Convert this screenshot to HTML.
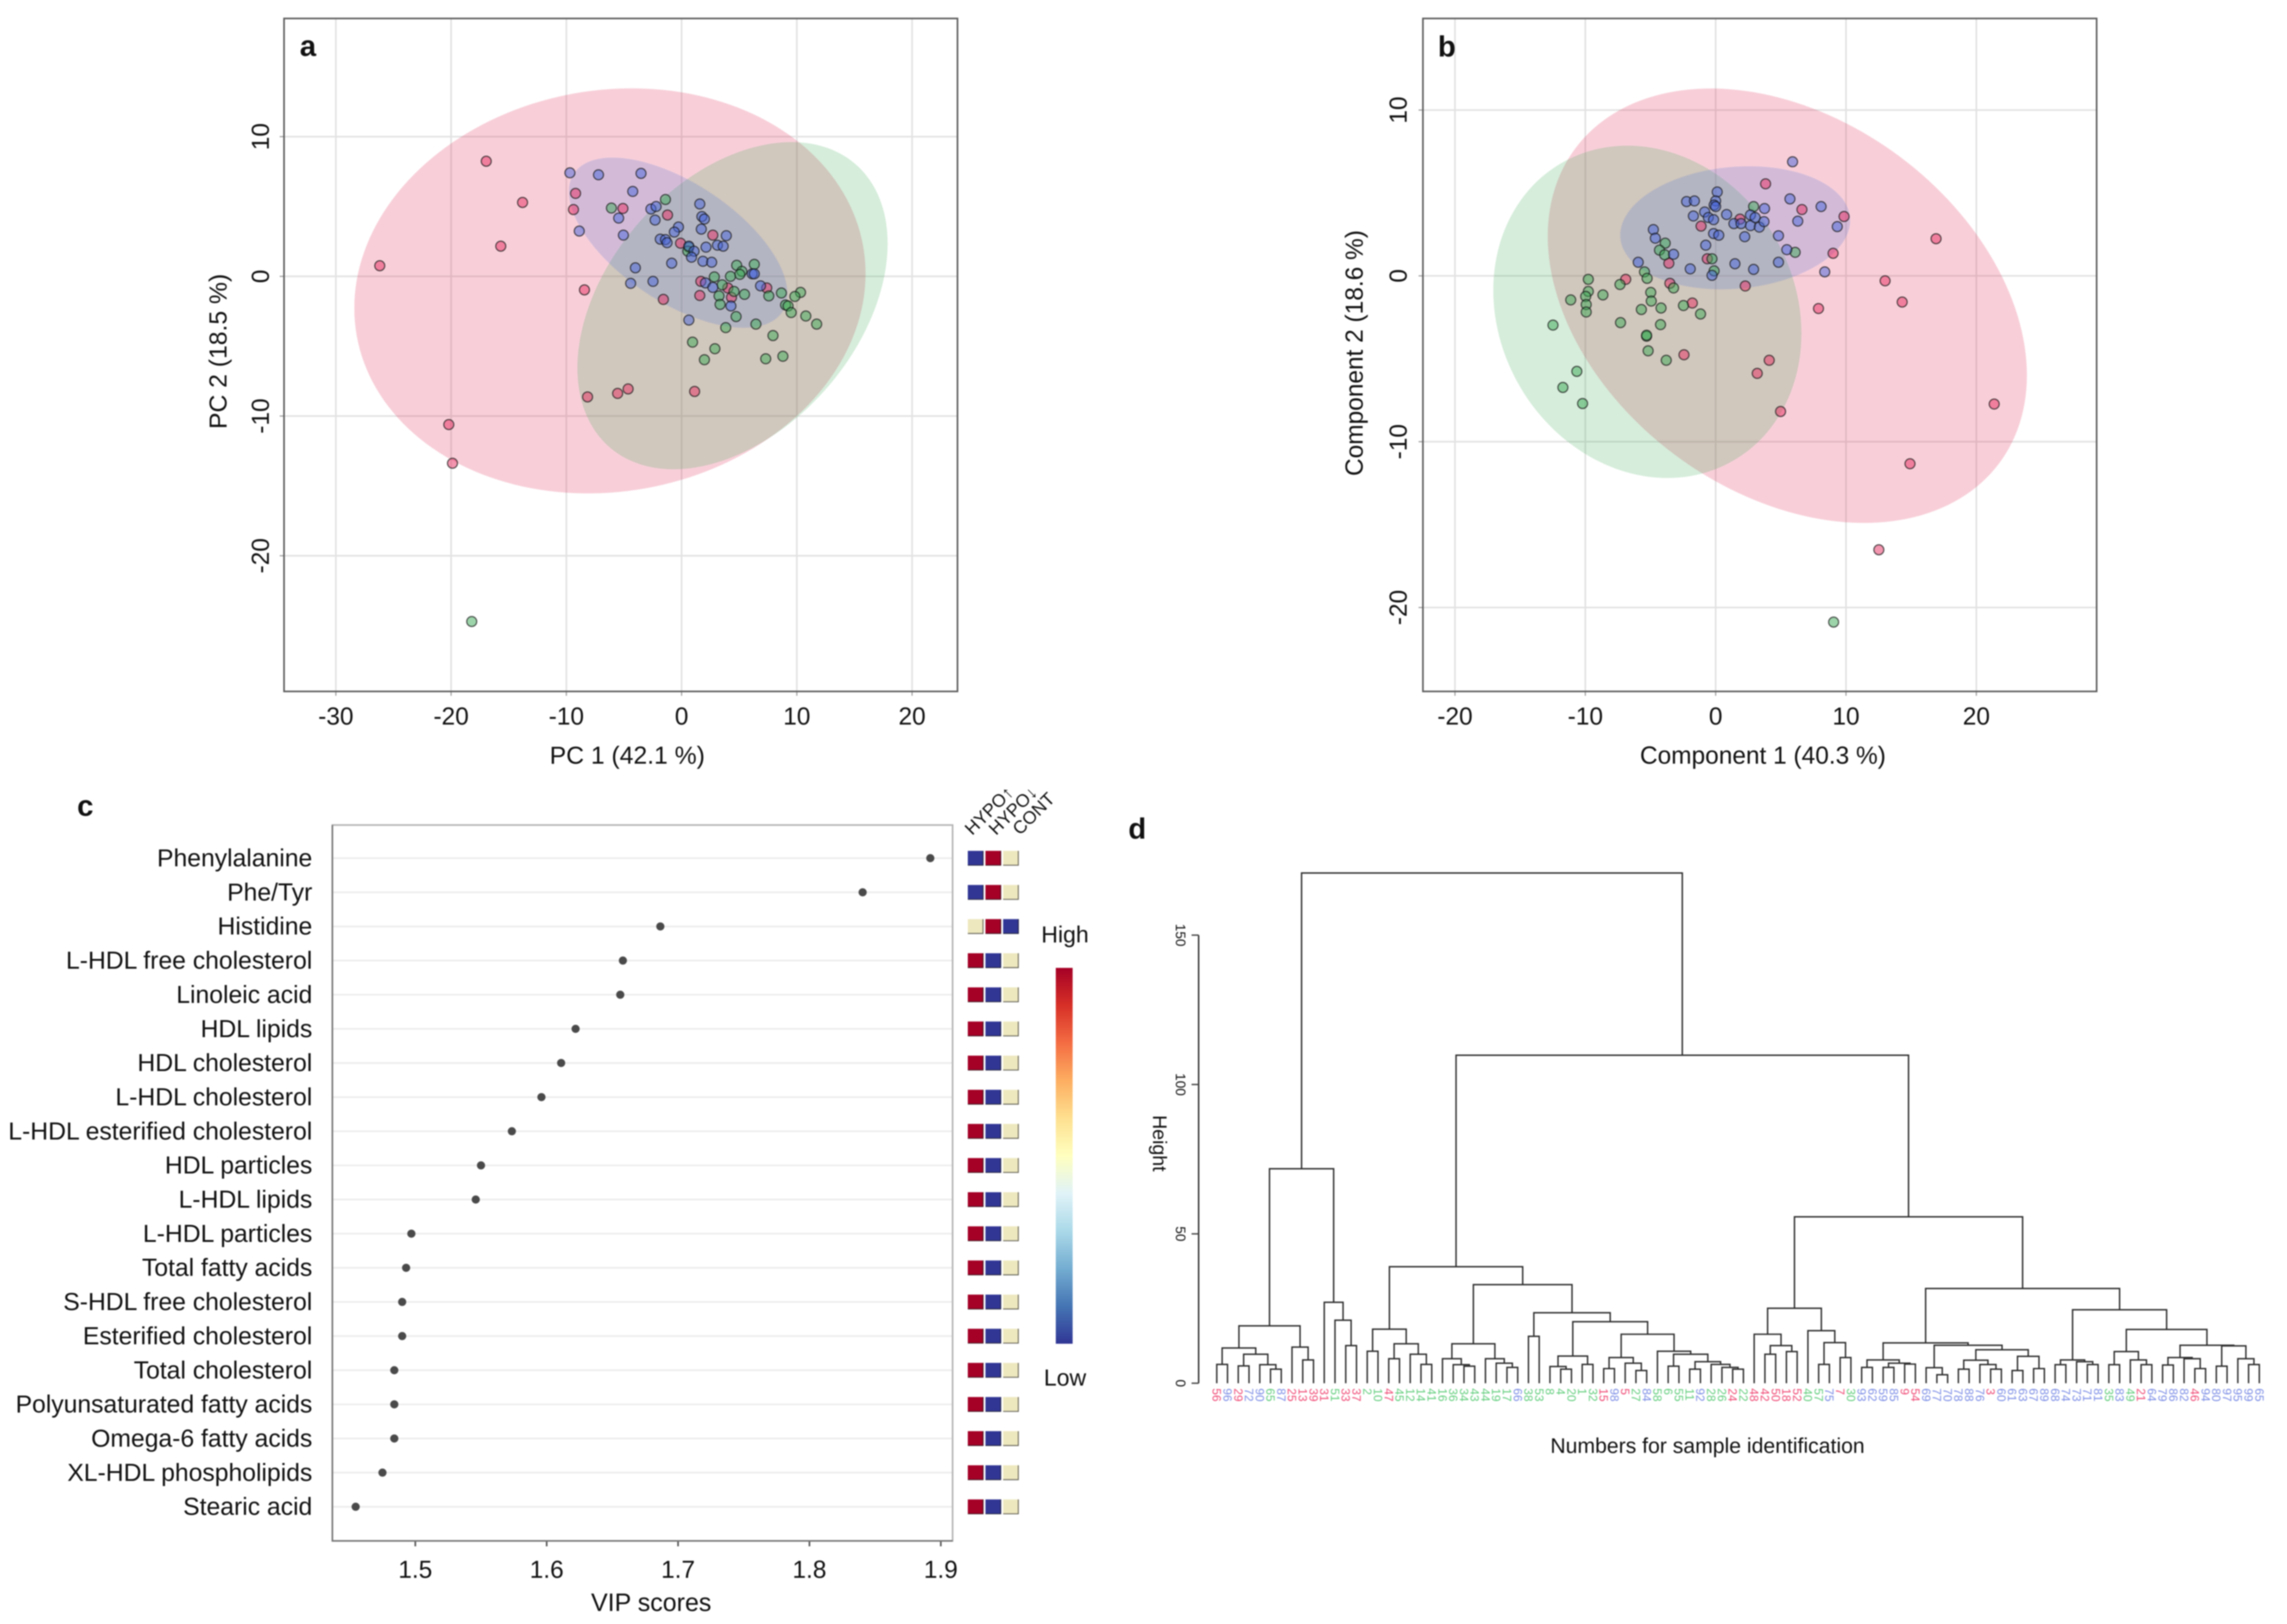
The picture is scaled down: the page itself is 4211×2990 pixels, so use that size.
<!DOCTYPE html>
<html lang="en">
<head>
<meta charset="utf-8">
<title>Metabolomic multivariate analysis panels</title>
<style>
  html,body{margin:0;padding:0;background:#fff;}
  #figure{display:block;width:4211px;height:2990px;filter:blur(1px);font-family:"Liberation Sans",Arial,sans-serif;}
  text{fill:#111;}
</style>
</head>
<body>
<svg id="figure" xmlns="http://www.w3.org/2000/svg" width="4211" height="2990" viewBox="0 0 4211 2990">
  <defs>
    <linearGradient id="rampGradient" x1="0" y1="0" x2="0" y2="1">
      <stop offset="0" stop-color="#a50026"/><stop offset="0.1" stop-color="#d73027"/>
      <stop offset="0.2" stop-color="#f46d43"/><stop offset="0.3" stop-color="#fdae61"/>
      <stop offset="0.4" stop-color="#fee090"/><stop offset="0.5" stop-color="#ffffbf"/>
      <stop offset="0.6" stop-color="#e0f3f8"/><stop offset="0.7" stop-color="#abd9e9"/>
      <stop offset="0.8" stop-color="#74add1"/><stop offset="0.9" stop-color="#4575b4"/>
      <stop offset="1" stop-color="#313695"/>
    </linearGradient>
  </defs>
  <rect width="4211" height="2990" fill="#fff"/>
  <g id="panelA"></g>
  <g id="panelB"></g>
  <g id="panelC"></g>
  <g id="panelD"></g>

  <text x="567" y="103" font-size="54" font-weight="bold" text-anchor="middle">a</text>
  <text x="2664" y="104" font-size="54" font-weight="bold" text-anchor="middle">b</text>
  <text x="157" y="1502" font-size="54" font-weight="bold" text-anchor="middle">c</text>
  <text x="2094" y="1544" font-size="54" font-weight="bold" text-anchor="middle">d</text>

  <text x="1155" y="1406" font-size="45.5" text-anchor="middle">PC 1 (42.1 %)</text>
  <text transform="translate(417,647) rotate(-90)" font-size="45.5" text-anchor="middle">PC 2 (18.5 %)</text>
  <text x="3246" y="1406" font-size="45" text-anchor="middle">Component 1 (40.3 %)</text>
  <text transform="translate(2509,650) rotate(-90)" font-size="45" text-anchor="middle">Component 2 (18.6 %)</text>
  <text x="1199" y="2966" font-size="46" text-anchor="middle">VIP scores</text>

  <rect x="1944" y="1782" width="31" height="692" fill="url(#rampGradient)"/>
  <text x="1961" y="1735" font-size="42.5" text-anchor="middle">High</text>
  <text x="1961" y="2551" font-size="42.5" text-anchor="middle">Low</text>

  <text transform="translate(2123,2105) rotate(90)" font-size="36" text-anchor="middle">Height</text>
  <text x="3144" y="2675" font-size="39" text-anchor="middle">Numbers for sample identification</text>
</svg>

<script>
/* ---------- Panel a: PCA scores ---------- */
const pcaXTicks = [-30, -20, -10, 0, 10, 20];
const pcaYTicks = [10, 0, -10, -20];
const pcaRedX = [-16.95,-13.8,-15.69,-26.19,-9.2,-9.38,-5.09,-1.22,2.71,-0.09,-8.43,-1.58,1.67,1.58,4.01,4.33,7.39,-8.16,-5.55,-4.64,1.13,-20.2,-19.88];
const pcaRedY = [8.24,5.29,2.16,0.76,5.94,4.78,4.86,4.39,2.95,2.37,-0.97,-1.65,-0.36,-1.37,-0.83,-1.51,-0.83,-8.63,-8.38,-8.06,-8.24,-10.61,-13.38];
const pcaGreenX = [-1.4,-6.09,0.63,0.54,4.78,6.31,5.23,5.05,4.24,2.84,3.52,4.55,5.46,3.25,3.34,7.57,8.66,10.32,9.83,9.02,9.24,9.51,10.78,11.72,4.73,3.83,6.45,7.93,0.95,2.89,1.98,7.3,8.79,-18.21];
const pcaGreenY = [5.5,4.89,2.09,1.8,0.79,0.86,0.36,0.14,0,-0.04,-0.61,-1.08,-1.29,-1.4,-2.01,-1.4,-1.19,-1.15,-1.44,-2.05,-2.12,-2.59,-2.84,-3.42,-2.88,-3.67,-3.42,-4.24,-4.71,-5.18,-5.97,-5.9,-5.72,-24.71];
const pcaBlueX = [-9.69,-7.21,-3.52,-4.24,-5.46,-5.05,-8.88,-2.66,-2.21,-2.3,1.58,1.76,1.98,1.71,-0.27,-0.63,-1.85,-1.4,-1.26,3.88,3.11,3.61,2.12,0.63,1.08,0.86,-0.86,-4.01,1.85,2.61,-2.48,-4.42,2.07,2.71,6.13,6.31,6.85,4.28,0.63];
const pcaBlueY = [7.41,7.27,7.37,6.08,4.17,2.95,3.24,4.82,5,4.03,5.18,4.28,4.1,3.38,3.53,3.17,2.66,2.63,2.41,2.91,2.23,2.16,2.09,2.16,1.8,1.37,0.94,0.61,1.08,1.01,-0.36,-0.5,-0.47,-0.79,0.18,0.18,-0.68,-2.12,-3.13];
/* confidence ellipses: centre x, centre y, half width, half height, correlation */
const pcaRedEllipse = [-6.22, -1.04, 22.18, 14.5, 0.085];
const pcaGreenEllipse = [4.42, -2.10, 13.46, 11.71, 0.38];
const pcaBlueEllipse = [-0.3, 2.41, 9.48, 6.09, -0.6];

/* ---------- Panel b: PLS-DA scores ---------- */
const plsXTicks = [-20, -10, 0, 10, 20];
const plsYTicks = [10, 0, -10, -20];
const plsRedX = [3.83,6.62,9.85,1.87,-1.12,16.91,9.01,-0.64,-3.59,-6.9,-3.51,2.27,13,14.31,7.89,-1.79,-2.43,4.11,3.19,4.98,21.37,14.91,12.52];
const plsRedY = [5.55,4,3.58,3.42,3,2.24,1.36,1.03,0.76,-0.21,-0.45,-0.61,-0.3,-1.58,-1.97,-1.64,-4.76,-5.09,-5.88,-8.18,-7.73,-11.33,-16.52];
const plsGreenX = [2.91,-3.87,-4.31,-3.91,6.1,-0.28,-0.12,-5.46,-5.26,-9.77,-7.34,-3.23,-9.77,-4.98,-9.97,-8.65,-11.12,-4.94,-9.93,-4.19,-5.7,-2.47,-9.93,-1.16,-7.3,-4.23,-12.48,-5.3,-5.3,-5.18,-3.79,-10.65,-11.72,-10.21,9.05];
const plsGreenY = [4.18,1.97,1.55,1.27,1.42,1.03,0.3,0.24,-0.15,-0.21,-0.52,-0.73,-0.94,-1,-1.24,-1.15,-1.45,-1.52,-1.73,-1.94,-2.03,-1.79,-2.18,-2.3,-2.82,-2.94,-2.97,-3.64,-3.58,-4.52,-5.09,-5.76,-6.73,-7.7,-20.88];
const plsBlueX = [5.9,5.7,8.09,3.75,6.3,9.33,4.82,5.46,4.82,8.37,0.12,0,-0.12,0,-2.23,-1.63,-1.71,-0.84,-0.56,-0.16,0.84,1.4,1.95,2.67,2.67,3.03,3.35,3.71,-0.16,0.24,2.23,-4.78,-4.63,-3.23,-0.76,-5.94,-1.95,1.48,-0.28,2.91];
const plsBlueY = [6.88,4.64,4.18,4.06,3.3,2.97,2.42,1.58,0.82,0.24,5.06,4.52,4.27,4.18,4.48,4.52,3.61,3.85,3.52,3.39,3.7,3.15,3.15,3.67,3.03,3.52,2.94,3.27,2.55,2.45,2.36,2.79,2.27,1.3,1.85,0.82,0.42,0.73,0.03,0.39];
const plsRedEllipse = [5.5, -1.8, 18.38, 13.1, -0.32];
const plsGreenEllipse = [-5.24, -2.17, 11.82, 10.02, -0.13];
const plsBlueEllipse = [1.5, 2.9, 8.82, 3.71, 0.12];

/* ---------- Panel c: VIP scores ---------- */
const vipNames = ["Phenylalanine","Phe/Tyr","Histidine","L-HDL free cholesterol","Linoleic acid","HDL lipids","HDL cholesterol","L-HDL cholesterol","L-HDL esterified cholesterol","HDL particles","L-HDL lipids","L-HDL particles","Total fatty acids","S-HDL free cholesterol","Esterified cholesterol","Total cholesterol","Polyunsaturated fatty acids","Omega-6 fatty acids","XL-HDL phospholipids","Stearic acid"];
const vipScores = [1.892,1.8405,1.6865,1.658,1.656,1.622,1.611,1.596,1.5735,1.55,1.546,1.497,1.493,1.49,1.49,1.484,1.484,1.484,1.475,1.4546];
const vipTicks = ["1.5","1.6","1.7","1.8","1.9"];
const heatGroups = ["HYPO↑","HYPO↓","CONT"];
const heatLevelA = [-1,-1,0,1,1,1,1,1,1,1,1,1,1,1,1,1,1,1,1,1];
const heatLevelB = [1,1,1,-1,-1,-1,-1,-1,-1,-1,-1,-1,-1,-1,-1,-1,-1,-1,-1,-1];
const heatLevelC = [0,0,-1,0,0,0,0,0,0,0,0,0,0,0,0,0,0,0,0,0];

/* ---------- Panel d: hierarchical clustering ---------- */
const heightTicks = [0, 50, 100, 150];
const leafLabels = [56,96,29,72,90,65,87,25,13,39,31,51,33,37,2,10,47,45,12,14,41,16,36,34,43,44,19,17,66,38,53,8,4,20,1,32,15,98,5,27,84,58,6,55,11,92,28,26,24,22,48,42,50,18,52,40,57,75,7,30,93,62,59,85,9,54,69,77,70,78,88,76,3,60,61,63,67,89,68,74,73,71,81,35,83,49,21,64,79,86,82,46,94,80,97,95,99,65];
const leafGroups = "r b r b b g b r r r r g r r g g r g g g g g g g g g g g b g g g g g g g r b r g b g g g g b g g r g r r r r r g g b r g b b b b r r b b b b b b r b b b b b b b b b b g b g r b b b b r b b b b b b".split(" ");
/* each merge is [height, left child, right child]; a plain number is a leaf position */
const dendroTree = [170.8,
  [71.8,
    [19.2,[11.8,[6.3,0,1],[9.7,[5.8,2,3],[6.2,4,[4.7,5,6]]]],[12.1,7,[7.8,8,9]]],
    [27.1,10,[21.1,11,[12.6,12,13]]]],
  [109.8,
    [39.0,
      [18.1,[10.7,14,15],[13.2,[8.2,16,17],[9.7,18,[6.3,19,20]]]],
      [33.0,
        [13.2,[8.2,21,[6.2,22,[5.7,23,24]]],[8.2,25,[6.7,26,[5.3,27,28]]]],
        [23.6,[15.7,29,30],
          [20.6,[9.1,[5.6,31,[4.7,32,33]],[6.3,34,35]],
            [16.4,[8.6,[4.9,36,37],[6.7,38,[4.25,39,40]]],
              [10.7,41,[9.7,[5.7,42,43],[7.2,[4.7,44,45],[6.3,46,[5.3,47,[4.7,48,49]]]]]]]]]]],
    [55.7,
      [25.1,[16.4,50,[12.6,[9.7,51,52],[10.6,53,54]]],[17.6,55,[13.6,[6.3,56,57],[8.6,58,59]]]],
      [31.7,
        [13.5,[7.8,[5.3,60,61],[6.7,[5.3,62,63],[6.4,64,65]]],
          [12.7,[5.2,66,[2.85,67,68]],[11.2,[7.7,[4.7,69,70],[6.25,71,[4.7,72,73]]],[9.0,[4.25,74,75],[4.9,76,77]]]]],
        [24.6,[7.8,[6.2,78,79],[7.2,80,[6.25,81,82]]],
          [18.0,[10.6,[6.2,83,84],[7.8,85,[6.2,86,87]]],
            [12.7,[8.6,[6.1,88,89],[8.2,90,[4.9,91,92]]],[12.5,[5.7,93,94],[8.2,95,[6.25,96,97]]]]]]]]]];

/* ---------- Drawing ---------- */
const SVG_NS = "http://www.w3.org/2000/svg";
function make(tag, parent, attrs, content) {
  const el = document.createElementNS(SVG_NS, tag);
  for (const k in attrs) el.setAttribute(k, attrs[k]);
  if (content !== undefined) el.textContent = content;
  parent.appendChild(el);
  return el;
}

function ellipsePath(params, sx, sy) {
  const [cx, cy, hx, hy, rho] = params;
  const phi = Math.acos(rho);
  let d = "";
  for (let i = 0; i < 180; i++) {
    const t = i / 180 * 2 * Math.PI;
    const px = sx(cx + hx * Math.cos(t));
    const py = sy(cy + hy * Math.cos(t - phi));
    d += (i ? "L" : "M") + px.toFixed(1) + " " + py.toFixed(1);
  }
  return d + "Z";
}

function drawScatter(root, box, sx, sy, xTicks, yTicks, yLabelX, series, ellipses) {
  for (const v of xTicks) {
    const g = make("line", root, {x1: sx(v), x2: sx(v), y1: box.top, y2: box.bottom, stroke: "#e2e2e2", "stroke-width": 3});
    
    
    const t = make("line", root, {x1: sx(v), x2: sx(v), y1: box.bottom, y2: box.bottom + 8, stroke: "#999", "stroke-width": 2});
    
    
    const l = make("text", root, {x: sx(v), y: box.bottom + 61, "font-size": 45, "text-anchor": "middle"}, String(v));
    
    
  }
  for (const v of yTicks) {
    const g = make("line", root, {x1: box.left, x2: box.right, y1: sy(v), y2: sy(v), stroke: "#e2e2e2", "stroke-width": 3});
    
    
    const t = make("line", root, {x1: box.left - 8, x2: box.left, y1: sy(v), y2: sy(v), stroke: "#999", "stroke-width": 2});
    
    
    const l = make("text", root, {transform: "translate(" + yLabelX + "," + sy(v) + ") rotate(-90)", "font-size": 45, "text-anchor": "middle"}, String(v));
    
    
  }
  for (const e of ellipses) {
    const p = make("path", root, {d: ellipsePath(e.params, sx, sy), fill: e.color, "fill-opacity": 0.22});
    
    
  }
  for (const s of series) {
    s.x.forEach(function (xv, i) {
      const c = make("circle", root, {cx: sx(xv), cy: sy(s.y[i]), r: 9.2, fill: s.fill, "fill-opacity": 0.5, stroke: "#151515", "stroke-width": 2, "stroke-opacity": 0.75});
      
      
    });
  }
  const f = make("rect", root, {x: box.left, y: box.top, width: box.right - box.left, height: box.bottom - box.top, fill: "none", stroke: "#5e5e5e", "stroke-width": 3});
  
  
}

const RED = "rgb(223,37,82)", GREEN = "rgb(68,173,91)", BLUE = "rgb(84,120,213)";
const PT_RED = "rgb(232,45,98)", PT_GREEN = "rgb(60,170,85)", PT_BLUE = "rgb(70,100,218)";

/* panel a */
(function () {
  const box = {left: 523, right: 1763, top: 34, bottom: 1273};
  const sx = v => 1255 + v * 21.22;
  const sy = v => 508.8 - v * 25.72;
  drawScatter(document.getElementById("panelA"), box, sx, sy, pcaXTicks, pcaYTicks, 495,
    [{x: pcaRedX, y: pcaRedY, fill: PT_RED, name: "hyper-group-point"},
     {x: pcaGreenX, y: pcaGreenY, fill: PT_GREEN, name: "hypo-group-point"},
     {x: pcaBlueX, y: pcaBlueY, fill: PT_BLUE, name: "control-group-point"}],
    [{params: pcaRedEllipse, color: RED, name: "hyper-group-ellipse"},
     {params: pcaGreenEllipse, color: GREEN, name: "hypo-group-ellipse"},
     {params: pcaBlueEllipse, color: BLUE, name: "control-group-ellipse"}]);
})();

/* panel b */
(function () {
  const box = {left: 2620, right: 3860.5, top: 34, bottom: 1273};
  const sx = v => 3159 + v * 24;
  const sy = v => 507.9 - v * 30.53;
  drawScatter(document.getElementById("panelB"), box, sx, sy, plsXTicks, plsYTicks, 2590,
    [{x: plsRedX, y: plsRedY, fill: PT_RED, name: "hyper-group-point"},
     {x: plsGreenX, y: plsGreenY, fill: PT_GREEN, name: "hypo-group-point"},
     {x: plsBlueX, y: plsBlueY, fill: PT_BLUE, name: "control-group-point"}],
    [{params: plsRedEllipse, color: RED, name: "hyper-group-ellipse"},
     {params: plsGreenEllipse, color: GREEN, name: "hypo-group-ellipse"},
     {params: plsBlueEllipse, color: BLUE, name: "control-group-ellipse"}]);
})();

/* panel c */
(function () {
  const root = document.getElementById("panelC");
  const box = {left: 612, right: 1754, top: 1519, bottom: 2837};
  const sx = v => 764.7 + (v - 1.5) * 2419;
  const sy = i => 1580 + i * 62.85;
  const heatColour = v => (v > 0 ? "#a50026" : v < 0 ? "#313695" : "#eee8bf");
  const heatCols = [heatLevelA, heatLevelB, heatLevelC];

  vipNames.forEach(function (name, i) {
    const g = make("line", root, {x1: box.left, x2: box.right, y1: sy(i), y2: sy(i), stroke: "#ececec", "stroke-width": 3});
    
    
    const l = make("text", root, {x: 575, y: sy(i) + 15, "font-size": 45.5, "text-anchor": "end"}, name);
    
    
    const d = make("circle", root, {cx: sx(vipScores[i]), cy: sy(i), r: 7.5, fill: "#4a4a4a"});
    
    
    heatCols.forEach(function (col, j) {
      const hx = 1782 + j * 32.5;
      const cell = make("rect", root, {x: hx, y: sy(i) - 13.5, width: 29, height: 27, fill: heatColour(col[i])});
      
      
      const edge = make("path", root, {d: "M" + (hx + 28) + " " + (sy(i) - 13.5) + "V" + (sy(i) + 13) + "H" + hx, fill: "none", stroke: "#222", "stroke-width": 1.8, "stroke-opacity": 0.65});
      
      
    });
  });

  vipTicks.forEach(function (label) {
    const v = parseFloat(label);
    const t = make("line", root, {x1: sx(v), x2: sx(v), y1: box.bottom, y2: box.bottom + 10, stroke: "#555", "stroke-width": 3});
    
    
    const l = make("text", root, {x: sx(v), y: 2905, "font-size": 45, "text-anchor": "middle"}, label);
    
    
  });

  const frame = make("rect", root, {x: box.left, y: box.top, width: box.right - box.left, height: box.bottom - box.top, fill: "none", stroke: "#b4b4b4", "stroke-width": 3});
  
  
  const axisLines = make("path", root, {d: "M" + box.left + " " + box.top + "V" + box.bottom + "H" + box.right, fill: "none", stroke: "#777", "stroke-width": 3});
  
  

  heatGroups.forEach(function (label, j) {
    const t = make("text", root, {transform: "translate(" + (1790 + j * 44) + ",1539) rotate(-45)", "font-size": 33}, label);
    
    
  });
})();

/* panel d */
(function () {
  const root = document.getElementById("panelD");
  const sx = i => 2240.4 + i * 19.79;
  const sy = h => 2546.7 - h * 5.5;
  const groupColours = {r: "#f0507a", g: "#66cf80", b: "#7f90e6"};

  const axis = make("line", root, {x1: 2207, x2: 2207, y1: sy(heightTicks[heightTicks.length - 1]), y2: sy(0), stroke: "#222", "stroke-width": 2.5});
  
  
  heightTicks.forEach(function (v) {
    const t = make("line", root, {x1: 2194, x2: 2207, y1: sy(v), y2: sy(v), stroke: "#444", "stroke-width": 2.5});
    
    
    const l = make("text", root, {transform: "translate(2165," + sy(v) + ") rotate(90)", "font-size": 25, "text-anchor": "middle"}, String(v));
    
    
  });

  function drawNode(node) {
    if (typeof node === "number") return {x: sx(node), h: 0};
    const a = drawNode(node[1]);
    const b = drawNode(node[2]);
    const h = node[0];
    const d = "M" + a.x + " " + sy(a.h) + "V" + sy(h) + "H" + b.x + "V" + sy(b.h);
    const p = make("path", root, {d: d, fill: "none", stroke: "#2c2c2c", "stroke-width": 2.6});
    
    
    return {x: (a.x + b.x) / 2, h: h};
  }
  drawNode(dendroTree);

  leafLabels.forEach(function (label, i) {
    const t = make("text", root, {transform: "translate(" + sx(i) + ",2556) rotate(90)", "font-size": 22, dy: "0.35em"}, String(label));
    t.style.fill = groupColours[leafGroups[i]];
    
    
  });
})();
</script>
</body>
</html>
